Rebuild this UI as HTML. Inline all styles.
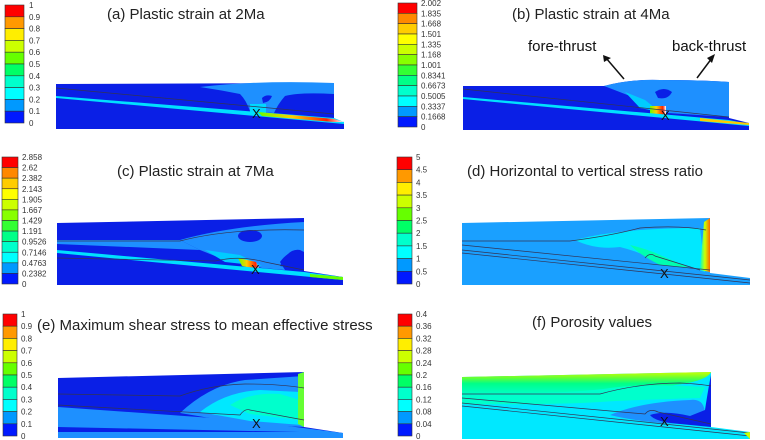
<!DOCTYPE html>
<html><head><meta charset="utf-8"><style>
html,body{margin:0;padding:0;background:#fff;}
svg{display:block;font-family:"Liberation Sans",sans-serif;}
.t{font-size:15px;fill:#222;}
.cl{font-size:8px;fill:#333;}
.ln{fill:none;stroke:#335;stroke-width:0.7;}
</style></head><body>
<svg id="fig" width="765" height="440" viewBox="0 0 765 440">
<defs>
<linearGradient id="porTop" x1="0" y1="0" x2="0" y2="1">
<stop offset="0" stop-color="#ccff00"/><stop offset="0.25" stop-color="#66ff33"/><stop offset="0.5" stop-color="#00ff88"/><stop offset="1" stop-color="#00ffcc"/>
</linearGradient>
<linearGradient id="wallD" x1="0" y1="0" x2="1" y2="0">
<stop offset="0" stop-color="#00ffcc"/><stop offset="0.5" stop-color="#ccff00"/><stop offset="1" stop-color="#ff6600"/>
</linearGradient>
<linearGradient id="streak" x1="0" y1="0" x2="1" y2="0">
<stop offset="0" stop-color="#66ff00"/><stop offset="0.4" stop-color="#ffcc00"/><stop offset="0.8" stop-color="#ff2200"/><stop offset="1" stop-color="#ffffff"/>
</linearGradient>
</defs>

<!-- Panel a -->
<g>
<text class="t" x="107" y="19">(a) Plastic strain at 2Ma</text>
<path d="M56,84 L334,83 L334,120 L344,122 L344,129 L56,129 Z" fill="#0a1fe6"/>
<path d="M200,87 Q260,80 334,83 L334,94 Q300,92 285,96 Q278,104 274,113 L250,111 Q246,100 240,94 Q220,90 200,87 Z" fill="#1e90ff"/>
<path d="M262,98 Q266,94 272,96 Q270,102 263,103 Z" fill="#0a1fe6"/>
<path d="M250,104 L266,104 L266,114 L250,112 Z" fill="#00d8ff"/>
<path d="M56,96 L334,118 L344,122 L344,124 L56,98 Z" fill="#00e0ff"/>
<path d="M258,112 L334,119 L344,122 L334,122 L262,116 Z" fill="url(#streak)"/>
<path class="ln" d="M56,88 L334,114"/>
<text x="252" y="118" font-size="13" fill="#111">X</text>
</g>

<!-- Panel b -->
<g>
<text class="t" x="512" y="19">(b) Plastic strain at 4Ma</text>
<text x="528" y="51" font-size="15" fill="#111">fore-thrust</text>
<text x="672" y="51" font-size="15" fill="#111">back-thrust</text>
<path d="M624,79 L606,58" stroke="#111" stroke-width="1.5"/>
<path d="M603,55 L611,58 L604,62 Z" fill="#111"/>
<path d="M697,78 L712,58" stroke="#111" stroke-width="1.5"/>
<path d="M715,54 L712,63 L707,58 Z" fill="#111"/>
<path d="M463,86 L604,86 Q630,79 660,80 Q700,80 729,82 L729,118 L749,123 L749,130 L463,130 Z" fill="#0a1fe6"/>
<path d="M604,86 Q630,79 660,80 Q700,80 729,82 L729,117 L668,113 Q650,105 640,100 Q620,92 604,86 Z" fill="#1e90ff"/>
<path d="M655,92 Q664,86 672,92 Q668,100 658,98 Z" fill="#0a1fe6"/>
<path d="M625,92 L645,100 L660,112 L640,108 Z" fill="#00ccff"/>
<path d="M650,106 L666,106 L666,116 L650,114 Z" fill="url(#streak)"/>
<path d="M463,97 L729,120 L749,124 L749,126 L463,99 Z" fill="#00e0ff"/>
<path d="M700,118 L749,123 L749,125 L700,121 Z" fill="#ffcc00"/>
<path class="ln" d="M463,89 L729,117"/>
<text x="661" y="120" font-size="13" fill="#111">X</text>
</g>

<!-- Panel c -->
<g>
<text class="t" x="117" y="176">(c) Plastic strain at 7Ma</text>
<path d="M57,223 L304,218 L304,271 L343,277 L343,285 L57,285 Z" fill="#0a1fe6"/>
<path d="M180,240 Q230,226 304,222 L304,252 Q290,248 280,262 L285,270 L262,268 Q240,262 220,258 L200,250 Z" fill="#1e90ff"/>
<path d="M57,240 L180,240 L200,250 L57,244 Z" fill="#1e90ff"/>
<ellipse cx="250" cy="236" rx="12" ry="6" fill="#0a1fe6"/>
<path d="M280,266 Q288,248 300,250 L304,252 L304,270 Z" fill="#0a1fe6"/>
<path d="M205,250 L240,255 L262,266 L225,262 Z" fill="#00ccff"/>
<path d="M238,258 L256,262 L260,270 L242,266 Z" fill="url(#streak)"/>
<path d="M57,250 L304,272 L343,277 L343,280 L57,253 Z" fill="#00e0ff"/>
<path d="M310,274 L343,277 L343,280 L310,277 Z" fill="#66ff00"/>
<path class="ln" d="M57,241 L180,241 Q230,228 304,230"/>
<path class="ln" d="M57,258 L215,261 Q240,255 265,262 L304,270"/>
<text x="251" y="274" font-size="13" fill="#111">X</text>
</g>

<!-- Panel d -->
<g>
<text class="t" x="467" y="176">(d) Horizontal to vertical stress ratio</text>
<path d="M462,223 L710,218 L710,273 L750,278 L750,285 L462,285 Z" fill="#1aa0ff"/>
<path d="M575,240 Q620,228 700,228 L705,272 Q680,262 660,262 Q640,252 620,247 Q595,250 575,240 Z" fill="#00e8ff"/>
<path d="M630,245 Q650,250 660,255 L690,268 L660,265 Q640,255 630,245 Z" fill="#00ffb0"/>
<path d="M704,222 L710,218 L710,272 L700,270 Z" fill="url(#wallD)"/>
<path class="ln" d="M462,241 L570,241 Q610,236 640,228 Q680,225 706,230"/>
<path class="ln" d="M462,245 L710,270 M462,250 L750,280 M462,253 L750,283"/>
<path class="ln" d="M645,258 Q650,252 655,256 L700,270"/>
<text x="660" y="278" font-size="13" fill="#111">X</text>
</g>

<!-- Panel e -->
<g>
<text class="t" x="37" y="330">(e) Maximum shear stress to mean effective stress</text>
<path d="M58,378 L304,372 L304,427 L343,433 L343,438 L58,438 Z" fill="#0a1fe6"/>
<path d="M58,407 L240,420 L343,433 L343,438 L58,438 L58,427 Z" fill="#1e90ff"/>
<path d="M58,427 L300,432 L58,432 Z" fill="#0a1fe6"/>
<path d="M180,413 Q210,385 245,380 L304,376 L304,427 L245,424 Q210,418 180,413 Z" fill="#1e90ff"/>
<path d="M200,412 Q225,392 260,390 L300,392 L302,425 L250,421 Z" fill="#00e8ff"/>
<path d="M230,405 Q250,392 280,394 L300,400 L300,420 L250,414 Z" fill="#00ffcc"/>
<path d="M298,374 L304,372 L304,427 L298,424 Z" fill="#66ff33"/>
<path class="ln" d="M58,394 L180,396 Q210,385 245,384 Q280,384 304,388"/>
<path class="ln" d="M58,405 L240,415 Q245,408 250,410 L304,420"/>
<text x="252" y="428" font-size="13" fill="#111">X</text>
</g>

<!-- Panel f -->
<g>
<text class="t" x="532" y="327">(f) Porosity values</text>
<path d="M462,377 L711,372 L711,427 L750,432 L750,439 L462,439 Z" fill="#00e8ff"/>
<path d="M462,377 L711,372 Q705,385 640,388 Q600,393 462,395 Z" fill="url(#porTop)"/>
<path d="M462,395 Q580,393 610,388 Q650,383 705,387 L700,398 Q630,400 600,402 Q550,405 462,404 Z" fill="#00ffcc"/>
<path d="M610,415 Q640,402 690,400 Q705,398 705,415 L704,425 L660,423 Q630,420 610,415 Z" fill="#1e90ff"/>
<path d="M650,415 Q665,410 690,416 L705,410 Q708,390 711,375 L711,427 L680,424 Q655,422 650,415 Z" fill="#0a1fe6"/>
<path class="ln" d="M462,394 L600,394 Q640,383 680,383 Q700,384 711,386"/>
<path class="ln" d="M462,398 L645,414 Q650,408 658,412 L711,424 M462,403 L750,433 M462,406 L750,436"/>
<path d="M744,433 L750,432 L750,439 Z" fill="#ccff00"/>
<text x="660" y="426" font-size="13" fill="#111">X</text>
</g>

<g id="bars"></g>
</svg>
<script>
const colors10 = ['#ff0000','#ff9900','#ffee00','#ccff00','#66ff00','#00ff66','#00ffcc','#00ffff','#0099ff','#0019ff'];
const colors12 = ['#ff0000','#ff8800','#ffcc00','#ffff00','#ccff00','#88ff00','#33ff33','#00ff88','#00ffcc','#00ffff','#0099ff','#0019ff'];
const ticksA = ['1','0.9','0.8','0.7','0.6','0.5','0.4','0.3','0.2','0.1','0'];
const ticksB = ['2.002','1.835','1.668','1.501','1.335','1.168','1.001','0.8341','0.6673','0.5005','0.3337','0.1668','0'];
const ticksC = ['2.858','2.62','2.382','2.143','1.905','1.667','1.429','1.191','0.9526','0.7146','0.4763','0.2382','0'];
const ticksD = ['5','4.5','4','3.5','3','2.5','2','1.5','1','0.5','0'];
const ticksE = ['1','0.9','0.8','0.7','0.6','0.5','0.4','0.3','0.2','0.1','0'];
const ticksF = ['0.4','0.36','0.32','0.28','0.24','0.2','0.16','0.12','0.08','0.04','0'];
const NS='http://www.w3.org/2000/svg';
const g=document.getElementById('bars');
function colorbar(name,x,y,w,h,ticks,cols,lx){
  const grp=document.createElementNS(NS,'g');
  
  
  const n=ticks.length-1, bh=h/n;
  for(let i=0;i<n;i++){
    const r=document.createElementNS(NS,'rect');
    r.setAttribute('x',x);r.setAttribute('y',y+i*bh);r.setAttribute('width',w);r.setAttribute('height',bh);
    r.setAttribute('fill',cols[i]);r.setAttribute('stroke','#333');r.setAttribute('stroke-width','0.6');
    
    
    grp.appendChild(r);
  }
  for(let i=0;i<=n;i++){
    const t=document.createElementNS(NS,'text');
    t.setAttribute('x',lx);t.setAttribute('y',y+i*bh+3);t.setAttribute('class','cl');
    t.textContent=ticks[i];
    
    
    grp.appendChild(t);
  }
  g.appendChild(grp);
}
colorbar('colorbar-a',5,5,19,118,ticksA,colors10,29);
colorbar('colorbar-b',398,3,19,124,ticksB,colors12,421);
colorbar('colorbar-c',2,157,16,127,ticksC,colors12,22);
colorbar('colorbar-d',397,157,15,127,ticksD,colors10,416);
colorbar('colorbar-e',3,314,14,122,ticksE,colors10,21);
colorbar('colorbar-f',398,314,14,122,ticksF,colors10,416);
</script>
</body></html>
